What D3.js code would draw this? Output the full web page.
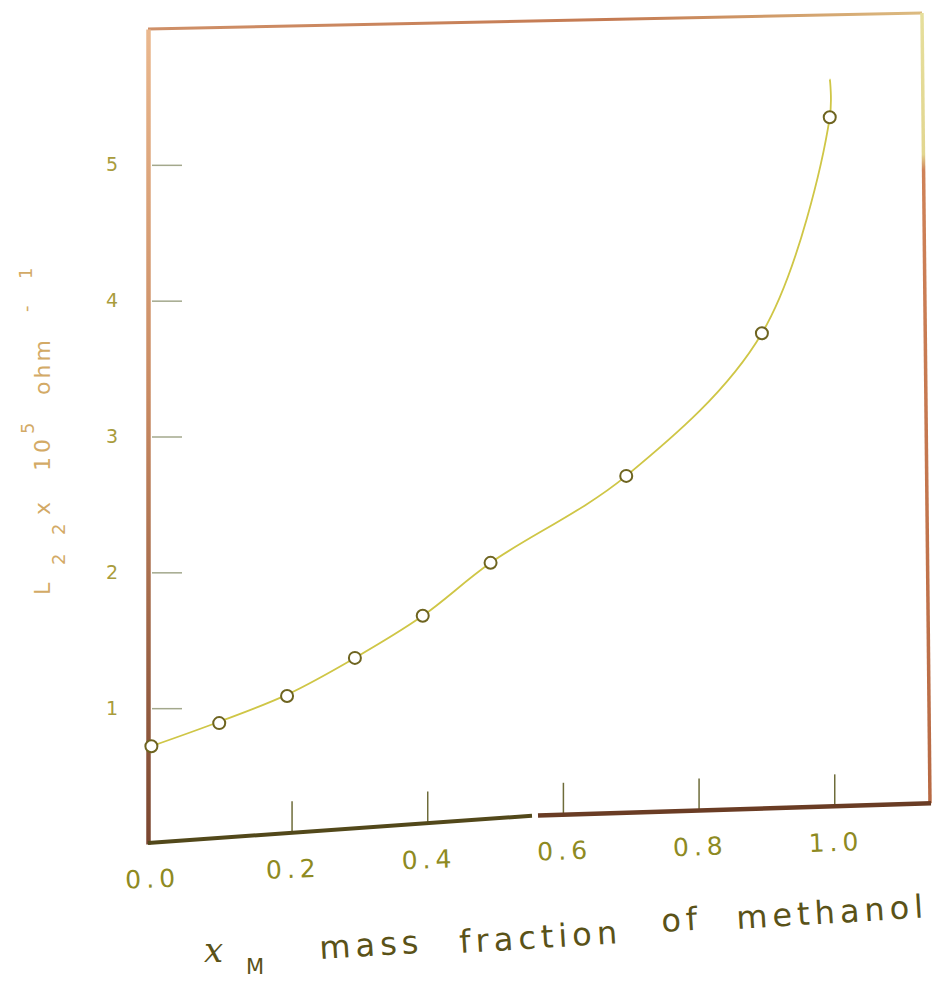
<!DOCTYPE html>
<html>
<head>
<meta charset="utf-8">
<script src="https://cdn.jsdelivr.net/npm/d3@7"></script>
<style>
  body { margin: 0; background: #fff; }
  svg { display: block; }
</style>
</head>
<body>
<div id="chart"></div>
<script>
// values
const massFraction = [0, 0.1, 0.2, 0.3, 0.4, 0.5, 0.7, 0.9, 1.0];
const conductance = [0.72, 0.89, 1.09, 1.37, 1.68, 2.07, 2.71, 3.76, 5.35];

// the hand-drawn fitted line
const fitX = [0, 0.1, 0.2, 0.3, 0.4, 0.5, 0.7, 0.9, 1.0, 1.0];
const fitY = [0.72, 0.9, 1.1, 1.37, 1.68, 2.07, 2.71, 3.76, 5.35, 5.63];

const xTicks = [0, 0.2, 0.4, 0.6, 0.8, 1.0];
const yTicks = [1, 2, 3, 4, 5];

const width = 934, height = 984;

const svg = d3.select("#chart")
    .append("svg")
    .attr("width", width)
    .attr("height", height);

const x = d3.scaleLinear().domain([-0.005, 1.136]).range([148, 922]);
const y = d3.scaleLinear().domain([0, 6]).range([844, 29]);

// the scan is a little warped: the bottom strip sags to the left and is nudged right
function baseY(px) {
    return px < 535 ? 843 - 0.071 * (px - 148) : 815.5 - 0.031 * (px - 535);
}
function shiftX(px) {
    return px < 200 ? 0 : 5;
}

const defs = svg.append("defs");
const gLeft = defs.append("linearGradient").attr("id", "leftGrad")
    .attr("gradientUnits", "userSpaceOnUse")
    .attr("x1", 0).attr("y1", y(6)).attr("x2", 0).attr("y2", y(0));
gLeft.append("stop").attr("offset", "0").attr("stop-color", "#eab88e");
gLeft.append("stop").attr("offset", "0.45").attr("stop-color", "#c98a62");
gLeft.append("stop").attr("offset", "1").attr("stop-color", "#7a4630");

const gRight = defs.append("linearGradient").attr("id", "rightGrad")
    .attr("gradientUnits", "userSpaceOnUse")
    .attr("x1", 0).attr("y1", 12).attr("x2", 0).attr("y2", 803);
gRight.append("stop").attr("offset", "0").attr("stop-color", "#e6df9c");
gRight.append("stop").attr("offset", "0.18").attr("stop-color", "#e2d690");
gRight.append("stop").attr("offset", "0.2").attr("stop-color", "#cf8258");
gRight.append("stop").attr("offset", "1").attr("stop-color", "#b86a44");

const gTop = defs.append("linearGradient").attr("id", "topGrad")
    .attr("gradientUnits", "userSpaceOnUse")
    .attr("x1", 148).attr("y1", 0).attr("x2", 922).attr("y2", 0);
gTop.append("stop").attr("offset", "0").attr("stop-color", "#cf9068");
gTop.append("stop").attr("offset", "0.6").attr("stop-color", "#c47a52");
gTop.append("stop").attr("offset", "1").attr("stop-color", "#dcbb80");

// frame: top and right edges
const [x0, x1] = x.range();
svg.append("line")
    .attr("x1", x0).attr("y1", y(6))
    .attr("x2", x1).attr("y2", y(6) - 16)
    .attr("stroke", "url(#topGrad)")
    .attr("stroke-width", 3);

svg.append("line")
    .attr("x1", x1).attr("y1", y(6) - 16)
    .attr("x2", x1 + 8).attr("y2", baseY(x1 + 8))
    .attr("stroke", "url(#rightGrad)")
    .attr("stroke-width", 3.5);

// left axis
const yAxis = svg.append("g")
    .attr("transform", `translate(${x0},0)`)
    .call(d3.axisLeft(y).tickValues(yTicks).tickSizeInner(-30).tickSizeOuter(0).tickFormat(d3.format("d")));

yAxis.select(".domain")
    .attr("stroke", "url(#leftGrad)")
    .attr("stroke-width", 4.5);
yAxis.selectAll(".tick line")
    .attr("stroke", "#a3a88c")
    .attr("stroke-width", 1.5)
    .attr("x1", 4).attr("x2", 34);
yAxis.selectAll(".tick text")
    .attr("x", -36)
    .attr("text-anchor", "middle")
    .attr("fill", "#a99c3c")
    .style("font-family", "DejaVu Sans")
    .style("font-size", "19px");

// bottom axis, ticks follow the warped baseline
const xAxis = svg.append("g")
    .call(d3.axisBottom(x).tickValues(xTicks).tickSizeInner(-32).tickSizeOuter(0).tickPadding(27).tickFormat(d3.format(".1f")));

xAxis.select(".domain").remove();
xAxis.selectAll(".tick")
    .attr("transform", d => `translate(${x(d) + shiftX(x(d))},${baseY(x(d))})`);
xAxis.selectAll(".tick line")
    .attr("stroke", "#6e6c3a")
    .attr("stroke-width", 1.5)
    .filter(d => d === 0).remove();
xAxis.selectAll(".tick text")
    .attr("fill", "#8e8a22")
    .attr("transform", "rotate(-2)")
    .style("font-family", "DejaVu Sans")
    .style("font-size", "25px")
    .style("letter-spacing", "5px");

svg.append("line")
    .attr("x1", x0).attr("y1", baseY(x0))
    .attr("x2", 532).attr("y2", baseY(532))
    .attr("stroke", "#52481a")
    .attr("stroke-width", 4);
svg.append("line")
    .attr("x1", 538).attr("y1", baseY(538))
    .attr("x2", x1 + 9).attr("y2", baseY(x1 + 9))
    .attr("stroke", "#6a3c24")
    .attr("stroke-width", 4.5);

// fitted curve
const fit = fitX.map((d, i) => [d, fitY[i]]);
svg.append("path")
    .datum(fit)
    .attr("fill", "none")
    .attr("stroke", "#cfc646")
    .attr("stroke-width", 1.8)
    .attr("d", d3.line().x(d => x(d[0])).y(d => y(d[1])).curve(d3.curveCatmullRom.alpha(0.5)));

// measured points
svg.append("g")
    .selectAll("circle")
    .data(massFraction.map((d, i) => ({ xm: d, l: conductance[i] })))
    .enter()
    .append("circle")
    .attr("cx", d => x(d.xm))
    .attr("cy", d => y(d.l))
    .attr("r", 6)
    .attr("fill", "#fff")
    .attr("stroke", "#6e6420")
    .attr("stroke-width", 2);

// y label, typed along the axis
const yLab = svg.append("text")
    .attr("transform", "translate(50,595) rotate(-90)")
    .attr("fill", "#d3aa66")
    .style("font-family", "DejaVu Sans")
    .style("font-size", "22px");
yLab.append("tspan").attr("x", 0).attr("y", 0).text("L");
yLab.append("tspan").attr("x", 30).attr("y", 15).style("font-size", "18px").text("2");
yLab.append("tspan").attr("x", 60).attr("y", 15).style("font-size", "18px").text("2");
yLab.append("tspan").attr("x", 80).attr("y", 0).text("x");
yLab.append("tspan").attr("x", 124).attr("y", 0).style("letter-spacing", "4px").text("10");
yLab.append("tspan").attr("x", 161).attr("y", -16).style("font-size", "18px").text("5");
yLab.append("tspan").attr("x", 200).attr("y", 0).style("letter-spacing", "3px").text("ohm");
yLab.append("tspan").attr("x", 283).attr("y", -18).style("font-size", "18px").text("-");
yLab.append("tspan").attr("x", 316).attr("y", -18).style("font-size", "18px").text("1");

// x label
const xLabColor = "#5a5218";
svg.append("text")
    .attr("x", 204).attr("y", 962)
    .attr("fill", xLabColor)
    .style("font-family", "DejaVu Serif")
    .style("font-style", "italic")
    .style("font-size", "34px")
    .text("x");
svg.append("text")
    .attr("x", 246).attr("y", 974)
    .attr("fill", xLabColor)
    .style("font-family", "DejaVu Sans")
    .style("font-size", "21px")
    .text("M");

const words = ["mass", "fraction", "of", "methanol"];
const wordX = [320, 460, 662, 737];
const wordY = [959, 953, 932, 929];
svg.append("g")
    .selectAll("text")
    .data(words)
    .enter()
    .append("text")
    .attr("transform", (d, i) => `translate(${wordX[i]},${wordY[i]}) rotate(-3.5)`)
    .attr("fill", xLabColor)
    .style("font-family", "DejaVu Sans")
    .style("font-size", "32px")
    .style("letter-spacing", "5px")
    .text(d => d);
</script>
</body>
</html>
